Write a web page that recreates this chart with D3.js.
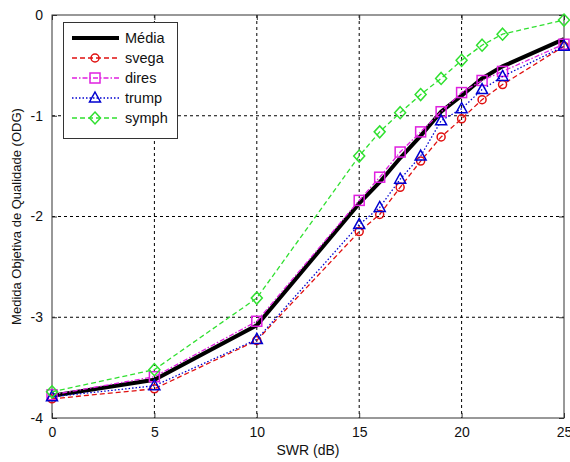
<!DOCTYPE html>
<html><head><meta charset="utf-8">
<script src="https://cdn.jsdelivr.net/npm/d3@7"></script>
<style>body{margin:0;background:#fff}svg{display:block}text{font-family:"Liberation Sans",Arial,sans-serif}</style>
</head><body><svg id="c" width="570" height="462"></svg>
<script>
const swr = [0, 5, 10, 15, 16, 17, 18, 19, 20, 21, 22, 25];
const media = [-3.78, -3.62, -3.08, -1.87, -1.66, -1.42, -1.20, -0.96, -0.80, -0.63, -0.51, -0.24];
const svega = [-3.81, -3.71, -3.23, -2.15, -1.98, -1.71, -1.45, -1.21, -1.03, -0.84, -0.69, -0.31];
const dires = [-3.77, -3.59, -3.04, -1.84, -1.61, -1.36, -1.16, -0.96, -0.77, -0.65, -0.56, -0.29];
const trump = [-3.79, -3.68, -3.22, -2.08, -1.91, -1.63, -1.40, -1.05, -0.93, -0.74, -0.61, -0.31];
const symph = [-3.74, -3.52, -2.81, -1.40, -1.16, -0.97, -0.79, -0.63, -0.45, -0.30, -0.19, -0.05];
const xTicks = [0, 5, 10, 15, 20, 25];
const yTicks = [0, -1, -2, -3, -4];
const seriesNames = ["Média", "svega", "dires", "trump", "symph"];

const series = [
  {name: seriesNames[0], vals: media, color: "#000000", width: 4, dash: null, marker: null},
  {name: seriesNames[1], vals: svega, color: "#e01010", width: 1.3, dash: "5,3", marker: "circle"},
  {name: seriesNames[2], vals: dires, color: "#e020e0", width: 1.3, dash: "5,2,1.5,2", marker: "square"},
  {name: seriesNames[3], vals: trump, color: "#0000d0", width: 1.3, dash: "1.5,2", marker: "triangle"},
  {name: seriesNames[4], vals: symph, color: "#30e030", width: 1.3, dash: "5,3", marker: "diamond"}
];

const svg = d3.select("#c");
const L = 52, R = 564, T = 15, B = 418;
const x = d3.scaleLinear().domain([0, 25]).range([L, R]);
const y = d3.scaleLinear().domain([-4, 0]).range([B, T]);

const g = svg.append("g");
g.selectAll(".vg").data(xTicks.filter(v => v > 0 && v < 25)).enter().append("line")
  .attr("x1", d => x(d)).attr("x2", d => x(d)).attr("y1", T).attr("y2", B)
  .attr("stroke", "#000").attr("stroke-width", 1).attr("stroke-dasharray", "3,3");
g.selectAll(".hg").data(yTicks.filter(v => v > -4 && v < 0)).enter().append("line")
  .attr("y1", d => y(d)).attr("y2", d => y(d)).attr("x1", L).attr("x2", R)
  .attr("stroke", "#000").attr("stroke-width", 1).attr("stroke-dasharray", "3,3");

const ax = svg.append("g").attr("transform", `translate(0,${B})`)
  .call(d3.axisBottom(x).tickValues(xTicks).tickSize(-5).tickPadding(9).tickFormat(d3.format("d")));
const axT = svg.append("g").attr("transform", `translate(0,${T})`)
  .call(d3.axisTop(x).tickValues(xTicks).tickSize(-5).tickFormat(""));
const ay = svg.append("g").attr("transform", `translate(${L},0)`)
  .call(d3.axisLeft(y).tickValues(yTicks).tickSize(-5).tickPadding(9).tickFormat(d => d === 0 ? "0" : "-" + Math.abs(d)));
const ayR = svg.append("g").attr("transform", `translate(${R},0)`)
  .call(d3.axisRight(y).tickValues(yTicks).tickSize(-5).tickFormat(""));
[ax, axT, ay, ayR].forEach(a => {
  a.select(".domain").remove();
  a.selectAll("line").attr("stroke", "#333");
  a.selectAll("text").attr("font-size", 14).attr("fill", "#111")
    .style("font-family", "'Liberation Sans', Arial, sans-serif");
});
svg.append("rect").attr("x", L).attr("y", T).attr("width", R - L).attr("height", B - T)
  .attr("fill", "none").attr("stroke", "#333").attr("stroke-width", 1);

function drawMarker(sel, type, color) {
  if (type === "circle") sel.append("circle").attr("r", 4);
  else if (type === "square") sel.append("rect").attr("x", -5).attr("y", -5).attr("width", 10).attr("height", 10);
  else if (type === "triangle") sel.append("path").attr("d", "M0,-6L5.5,4L-5.5,4Z");
  else if (type === "diamond") sel.append("path").attr("d", "M0,-6L5.5,0L0,6L-5.5,0Z");
  sel.selectAll("circle,rect,path").attr("fill", "none").attr("stroke", color).attr("stroke-width", 1.5);
}

const line = d3.line().x((d, i) => x(swr[i])).y(d => y(d));
series.forEach(s => {
  svg.append("path").datum(s.vals).attr("d", line).attr("fill", "none")
    .attr("stroke", s.color).attr("stroke-width", s.width)
    .attr("stroke-dasharray", s.dash);
  if (s.marker) {
    s.vals.forEach((v, i) => {
      const m = svg.append("g").attr("transform", `translate(${x(swr[i])},${y(v)})`);
      drawMarker(m, s.marker, s.color);
    });
  }
});

const lg = svg.append("g");
lg.append("rect").attr("x", 63.5).attr("y", 22.5).attr("width", 114).attr("height", 116)
  .attr("fill", "#fff").attr("stroke", "#333").attr("stroke-width", 1);
series.forEach((s, i) => {
  const yy = 38 + i * 20;
  lg.append("line").attr("x1", 72).attr("x2", 119).attr("y1", yy).attr("y2", yy)
    .attr("stroke", s.color).attr("stroke-width", s.width).attr("stroke-dasharray", s.dash);
  if (s.marker) {
    const m = lg.append("g").attr("transform", `translate(95,${yy})`);
    drawMarker(m, s.marker, s.color);
  }
  lg.append("text").attr("x", 125).attr("y", yy + 5).attr("font-size", 14.5).attr("fill", "#111").text(s.name);
});

svg.append("text").attr("x", (L + R) / 2).attr("y", 455).attr("text-anchor", "middle")
  .attr("font-size", 14).attr("fill", "#111").text("SWR (dB)");
svg.append("text").attr("transform", `translate(21,${(T + B) / 2}) rotate(-90)`).attr("text-anchor", "middle")
  .attr("font-size", 13).attr("fill", "#111").text("Medida Objetiva de Qualidade (ODG)");
</script></body></html>
